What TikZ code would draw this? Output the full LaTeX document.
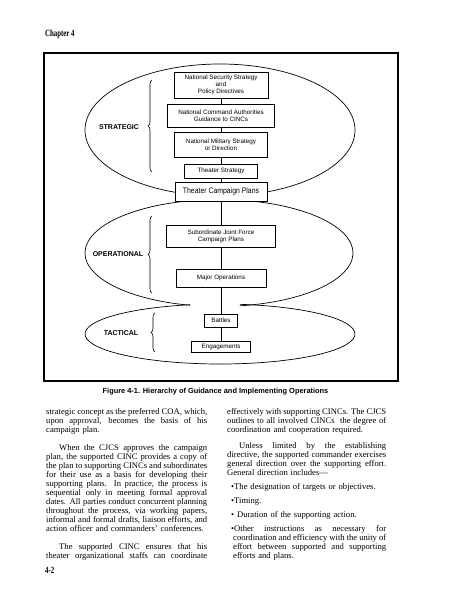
\documentclass[tikz,border=0pt]{standalone}
\usepackage{graphicx}
\usepackage{fontspec}
\setmainfont{Liberation Serif}
\setsansfont{Liberation Sans}
\usetikzlibrary{decorations.pathreplacing}
\newcommand{\jl}[1]{\makebox[\linewidth][s]{\spaceskip=0pt\xspaceskip=0pt\relax#1}\par}
\newcommand{\jli}[2]{\hspace*{#1}\makebox[\dimexpr\linewidth-#1\relax][s]{\spaceskip=0pt\xspaceskip=0pt\relax#2}\par}
\begin{document}
\begin{tikzpicture}[x=1pt,y=-1pt,
  box/.style={draw,line width=0.7pt,fill=white,inner sep=0pt,align=center,
    font=\sffamily\fontsize{6.3}{7.2}\selectfont},
  conn/.style={line width=0.7pt},
  lens/.style={line width=0.7pt},
  lvl/.style={font=\sffamily\bfseries\fontsize{7}{8}\selectfont,inner sep=0pt},
  brc/.style={decorate,decoration={brace,amplitude=4pt},line width=0.6pt},
  body/.style={anchor=base west,inner sep=0pt,font=\fontsize{8.6}{9}\selectfont},
  chap/.style={anchor=base west,inner sep=0pt,font=\bfseries\fontsize{9.5}{10}\selectfont}]
\useasboundingbox (0,0) rectangle (463,599);
\fill[white] (0,0) rectangle (463,599);

\node[chap] (chapter) at (45,37) {\scalebox{0.72}[1]{Chapter 4}};

% frame
\draw[line width=1.1pt] (44,53) rectangle (398,381);

% level outlines
\draw[lens] (220,130) ellipse [x radius=135, y radius=66];
\draw[lens] ([shift={(102.5:134 and 53.5)}]219,253) arc[start angle=102.5,end angle=441,x radius=134,y radius=53.5];
\draw[lens] ([shift={(278.5:135 and 30)}]220,334) arc[start angle=278.5,end angle=617.2,x radius=135,y radius=30];

% boxes
\node[box,minimum width=94,minimum height=26] (nss) at (221,85) {National Security Strategy\\and\\Policy Directives};
\node[box,minimum width=107,minimum height=23] (nca) at (221,115.5) {National Command Authorities\\Guidance to CINCs};
\node[box,minimum width=93,minimum height=25] (nms) at (221,144.5) {National Military Strategy\\or Direction};
\node[box,minimum width=73,minimum height=14] (ts) at (221,171) {Theater Strategy};
\node[box,minimum width=92,minimum height=19,font=\sffamily\fontsize{8}{9}\selectfont] (tcp) at (221,191.5) {\scalebox{0.86}[1]{Theater Campaign Plans}};
\node[box,minimum width=109,minimum height=22] (sjf) at (221,236) {Subordinate Joint Force\\Campaign Plans};
\node[box,minimum width=90,minimum height=18] (mo) at (221,278) {Major Operations};
\node[box,minimum width=33,minimum height=13] (bat) at (221,320.5) {Battles};
\node[box,minimum width=59,minimum height=11] (eng) at (221,346.5) {Engagements};

\draw[conn] (nss) -- (nca);
\draw[conn] (nca) -- (nms);
\draw[conn] (nms) -- (ts);
\draw[conn] (ts) -- (tcp);
\draw[conn] (tcp) -- (sjf);
\draw[conn] (sjf) -- (mo);
\draw[conn] (mo) -- (bat);
\draw[conn] (bat) -- (eng);

% braces and level labels
\coordinate (sb1) at (152,172); \coordinate (sb2) at (152,80);
\coordinate (ob1) at (152,293); \coordinate (ob2) at (152,216);
\coordinate (tb1) at (155,352); \coordinate (tb2) at (155,313);
\draw[brc] (sb1) -- (sb2);
\draw[brc] (ob1) -- (ob2);
\draw[brc] (tb1) -- (tb2);
\node[lvl] (strat) at (119,127) {STRATEGIC};
\node[lvl] (oper) at (118,254) {OPERATIONAL};
\node[lvl] (tact) at (121,333) {TACTICAL};

% caption
\node[inner sep=0pt,anchor=base,font=\sffamily\bfseries\fontsize{7.4}{8}\selectfont] (cap) at (215.5,393) {Figure 4-1. Hierarchy of Guidance and Implementing Operations};

% text columns
\node[body,text width=161pt] (colL) at (46,414) {%
\jl{strategic concept as the preferred COA, which,}
\jl{upon approval, becomes the basis of his}
campaign plan.\par
\vspace{9pt}
\jl{\hspace*{13pt}When the CJCS approves the campaign}
\jl{plan, the supported CINC provides a copy of}
\jl{the plan to supporting CINCs and subordinates}
\jl{for their use as a basis for developing their}
\jl{supporting plans. In practice, the process is}
\jl{sequential only in meeting formal approval}
\jl{dates. All parties conduct concurrent planning}
\jl{throughout the process, via working papers,}
\jl{informal and formal drafts, liaison efforts, and}
action officer and commanders' conferences.\par
\vspace{9pt}
\jl{\hspace*{13pt}The supported CINC ensures that his}
\jl{theater organizational staffs can coordinate}};

\node[body,text width=159pt] (colR) at (227,414) {%
\jl{effectively with supporting CINCs. The CJCS}
\jl{outlines to all involved CINCs\ \ the degree of}
coordination and cooperation required.\par
\vspace{7pt}
\jl{\hspace*{12pt}Unless limited by the establishing}
\jl{directive, the supported commander exercises}
\jl{general direction over the supporting effort.}
General direction includes---\par
\vspace{5pt}
\hspace*{4pt}•The designation of targets or objectives.\par
\vspace{5pt}
\hspace*{4pt}•Timing.\par
\vspace{5pt}
\hspace*{4pt}• Duration of the supporting action.\par
\vspace{5pt}
\jli{4pt}{•Other instructions as necessary for}
\jli{6pt}{coordination and efficiency with the unity of}
\jli{6pt}{effort between supported and supporting}
\hspace*{6pt}efforts and plans.\par};

\node[chap] (pagenum) at (45,573) {\scalebox{0.72}[1]{4-2}};
\end{tikzpicture}
\end{document}
